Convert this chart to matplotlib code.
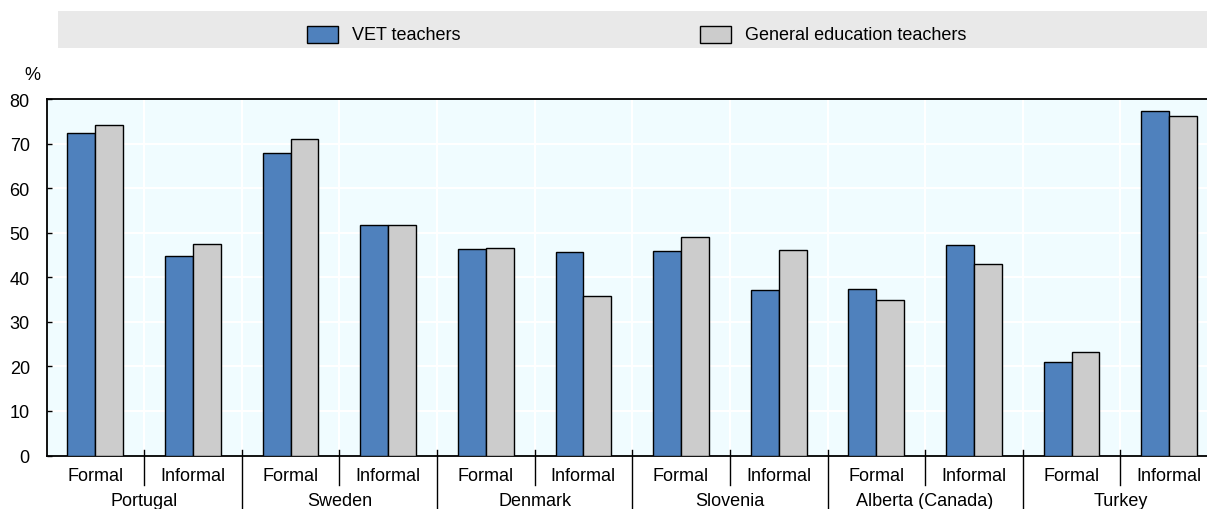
import matplotlib
matplotlib.use("Agg")
import matplotlib.pyplot as plt
import matplotlib.transforms as mtransforms
from matplotlib.patches import Rectangle
import numpy as np

plt.rcParams['font.family'] = ['Liberation Sans Narrow', 'Liberation Sans', 'DejaVu Sans']

countries = ['Portugal', 'Sweden', 'Denmark', 'Slovenia', 'Alberta (Canada)', 'Turkey']
kinds = ['Formal', 'Informal']
vet = [72.4, 44.8, 67.9, 51.7, 46.3, 45.6, 45.9, 37.1, 37.4, 47.3, 21.0, 77.2]
gen = [74.2, 47.5, 71.1, 51.8, 46.6, 35.8, 49.1, 46.1, 35.0, 42.9, 23.3, 76.2]
series_names = ['VET teachers', 'General education teachers']

blue = '#4F81BD'
grey = '#CCCCCC'
W, H = 1207, 510

fig = plt.figure(figsize=(W / 100, H / 100), dpi=100)
ax = fig.add_axes([46.5 / W, (H - 456.5) / H, 1171.5 / W, 356.5 / H])
ax.set_facecolor('#F0FCFF')

n = len(vet)
x = np.arange(n)
bw = 0.285
ax.bar(x - bw / 2, vet, bw, color=blue, edgecolor='black', linewidth=1, zorder=3)
ax.bar(x + bw / 2, gen, bw, color=grey, edgecolor='black', linewidth=1, zorder=3)

ax.set_xlim(-0.5, n - 0.5)
ax.set_ylim(0, 80)
ax.set_yticks(range(0, 90, 10))
ax.tick_params(axis='y', direction='in', length=3.6, width=1, pad=12, labelsize=13)
for yv in range(10, 80, 10):
    ax.axhline(yv, color='white', lw=1.5, zorder=1)
for b in np.arange(0.5, n - 0.5, 1):
    ax.axvline(b, color='white', lw=1.5, zorder=1)

ax.set_xticks(x)
ax.set_xticklabels([kinds[i % 2] for i in range(n)], fontsize=13)
ax.tick_params(axis='x', length=0, pad=8)
for s in ['left', 'top', 'bottom']:
    ax.spines[s].set_linewidth(1.3)
ax.spines['right'].set_visible(False)

# separators under the axis
trans = mtransforms.blended_transform_factory(ax.transData, ax.transAxes)
ah = 356.5
for b in np.arange(0.5, n - 0.5, 1):
    if int(b + 0.5) % 2 == 0:
        y0, y1 = 5.5 / ah, -54 / ah
    else:
        y0, y1 = 5.5 / ah, -29 / ah
    ax.plot([b, b], [y0, y1], color='black', lw=1, transform=trans, clip_on=False, zorder=5)

for i, c in enumerate(countries):
    ax.text(2 * i + 0.5, -(506 - 456.5) / ah, c, transform=trans, ha='center',
            va='baseline', fontsize=13)

fig.text(32 / W, 1 - 80 / H, '%', ha='center', va='baseline', fontsize=13)

# legend band
fig.patches.append(Rectangle((58 / W, 1 - 49 / H), (W - 58) / W, 37 / H,
                             transform=fig.transFigure, facecolor='#E9E9E9',
                             edgecolor='none', zorder=0))
for px, col, name in [(307, blue, series_names[0]), (700, grey, series_names[1])]:
    fig.patches.append(Rectangle((px / W, 1 - 44 / H), 31 / W, 17 / H,
                                 transform=fig.transFigure, facecolor=col,
                                 edgecolor='black', lw=1, zorder=2))
    fig.text((px + 45) / W, 1 - 35.5 / H, name, ha='left', va='center', fontsize=13)

fig.savefig('out.png', dpi=100)
